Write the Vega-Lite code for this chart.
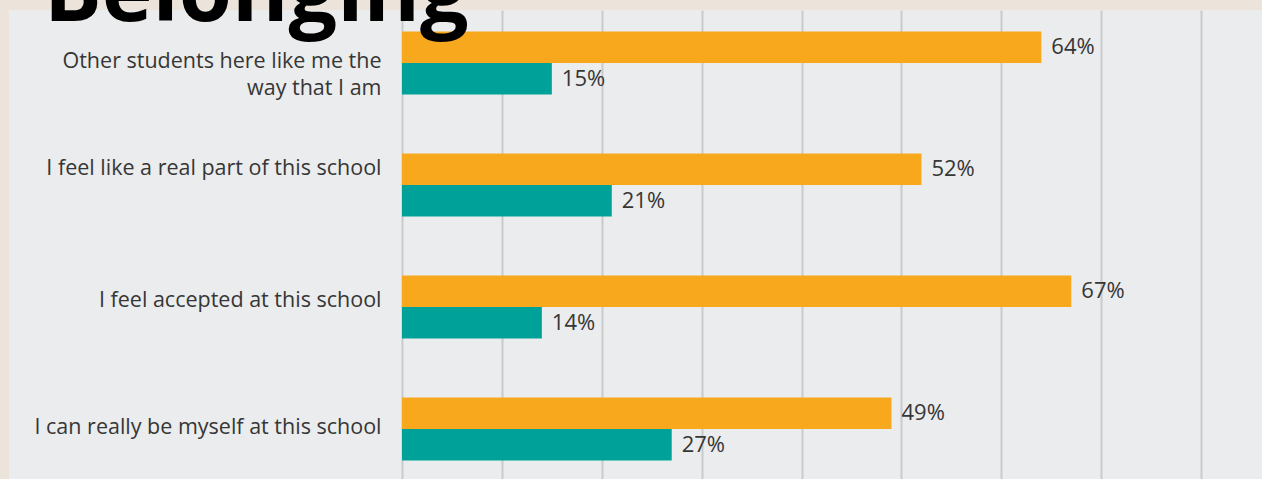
{
  "$schema": "https://vega.github.io/schema/vega-lite/v6.json",
  "width": 1253,
  "height": 472,
  "autosize": {"type": "none"},
  "padding": {"left": 9, "top": 10, "right": 0, "bottom": 0},
  "background": "#ece4da",
  "view": {"fill": "#ebeced", "stroke": null},
  "title": {"text": "Belonging", "anchor": "start", "frame": "group", "font": "Open Sans", "fontSize": 86, "fontWeight": "bold", "color": "#000000", "baseline": "alphabetic", "offset": 0, "dy": 97, "dx": 35},
  "data": {"values": [
    {"statement": "Other students here like me the|way that I am", "group": "Group 1", "pct": 0.64},
    {"statement": "Other students here like me the|way that I am", "group": "Group 2", "pct": 0.15},
    {"statement": "I feel like a real part of this school", "group": "Group 1", "pct": 0.52},
    {"statement": "I feel like a real part of this school", "group": "Group 2", "pct": 0.21},
    {"statement": "I feel accepted at this school", "group": "Group 1", "pct": 0.67},
    {"statement": "I feel accepted at this school", "group": "Group 2", "pct": 0.14},
    {"statement": "I can really be myself at this school", "group": "Group 1", "pct": 0.49},
    {"statement": "I can really be myself at this school", "group": "Group 2", "pct": 0.27}
  ]},
  "encoding": {
    "y": {
      "field": "statement", "type": "nominal",
      "sort": ["Other students here like me the|way that I am", "I feel like a real part of this school", "I feel accepted at this school", "I can really be myself at this school"],
      "scale": {"paddingInner": 0.4836, "paddingOuter": 0.176},
      "axis": {
        "title": null, "offset": -393, "ticks": false, "domain": false, "grid": false,
        "labelPadding": 21, "labelFont": "Open Sans", "labelFontSize": 21.5, "labelColor": "#363636",
        "labelLimit": 0, "labelExpr": "split(datum.label, '|')", "labelLineHeight": 27,
        "labelOffset": {
          "condition": [
            {"test": "datum.value === 'Other students here like me the|way that I am'", "value": -1},
            {"test": "datum.value === 'I feel like a real part of this school'", "value": -16},
            {"test": "datum.value === 'I feel accepted at this school'", "value": -6}
          ],
          "value": -1
        }
      }
    },
    "yOffset": {"field": "group", "type": "nominal", "sort": ["Group 1", "Group 2"], "scale": {"paddingInner": 0, "paddingOuter": 0}},
    "x": {
      "field": "pct", "type": "quantitative",
      "scale": {"domain": [-0.3934, 0.8609], "nice": false, "zero": false},
      "axis": {"title": null, "values": [0, 0.1, 0.2, 0.3, 0.4, 0.5, 0.6, 0.7, 0.8], "labels": false, "ticks": false, "domain": false, "grid": true, "gridColor": "#c9cacb", "gridWidth": 2}
    }
  },
  "layer": [
    {
      "mark": {"type": "bar"},
      "encoding": {
        "x2": {"datum": 0},
        "color": {"field": "group", "type": "nominal", "scale": {"domain": ["Group 1", "Group 2"], "range": ["#f8a81c", "#00a198"]}, "legend": null}
      }
    },
    {
      "mark": {"type": "text", "align": "left", "baseline": "middle", "dx": 10, "font": "Open Sans", "fontSize": 22, "color": "#363636"},
      "encoding": {"text": {"field": "pct", "type": "quantitative", "format": ".0%"}}
    }
  ]
}
